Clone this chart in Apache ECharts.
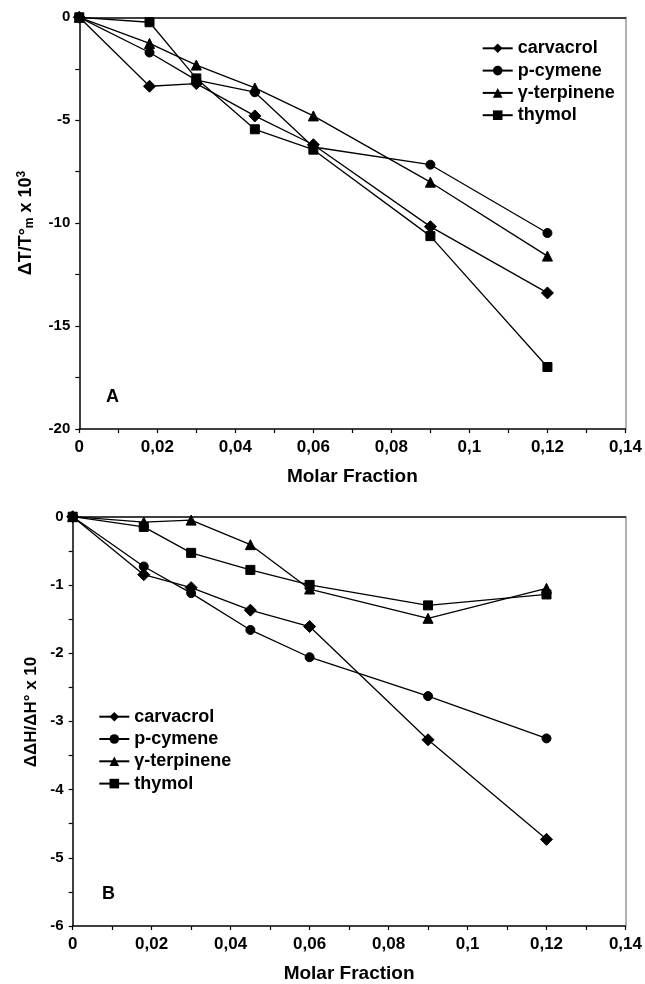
<!DOCTYPE html>
<html>
<head>
<meta charset="utf-8">
<script src="https://cdn.jsdelivr.net/npm/echarts@6/dist/echarts.min.js"></script>
<style>
html,body{margin:0;padding:0;background:#fff;}
#chart{width:645px;height:984px;}
</style>
</head>
<body>
<div id="chart"></div>
<script>
// ---- data ----
const molarFraction = [0, 0.018, 0.03, 0.045, 0.06, 0.09, 0.12];
const seriesNames = ['carvacrol', 'p-cymene', 'γ-terpinene', 'thymol'];
const seriesSymbols = ['diamond', 'circle', 'triangle', 'rect'];

// Panel A: ΔT/T°m x 10^3
const carvacrolA = [0, -3.35, -3.22, -4.79, -6.19, -10.17, -13.39];
const pCymeneA   = [0, -1.71, -3.05, -3.64, -6.30, -7.16, -10.48];
const terpineneA = [0, -1.27, -2.32, -3.43, -4.79, -8.01, -11.60];
const thymolA    = [0, -0.24, -2.97, -5.44, -6.43, -10.63, -16.99];

// Panel B: ΔΔH/ΔH° x 10
const carvacrolB = [0, -0.85, -1.04, -1.37, -1.61, -3.27, -4.73];
const pCymeneB   = [0, -0.73, -1.12, -1.66, -2.06, -2.63, -3.25];
const terpineneB = [0, -0.08, -0.05, -0.41, -1.06, -1.49, -1.05];
const thymolB    = [0, -0.15, -0.53, -0.78, -1.00, -1.30, -1.14];

const xTickStep = 0.02;
const xMax = 0.14;

// ---- chart ----
const FONT = "'Liberation Sans', Arial, sans-serif";
const symbolSizes = {diamond: 12, circle: 9, triangle: 10, rect: 9};

function pairs(ys) { return molarFraction.map((x, i) => [x, ys[i]]); }

function xLabel(v) {
  const s = String(+v.toFixed(2));
  return s.replace('.', ',');
}

function mkXAxis(gridIndex) {
  return [{
    type: 'value', gridIndex, min: 0, max: xMax, interval: xTickStep,
    name: 'Molar Fraction', nameLocation: 'middle', nameGap: 38,
    nameTextStyle: {fontFamily: FONT, fontWeight: 'bold', fontSize: 19, color: '#000'},
    axisLine: {onZero: false, lineStyle: {color: '#000', width: 1.5}},
    axisTick: {show: true, inside: false, length: 4, lineStyle: {color: '#000', width: 1.2}},
    minorTick: {show: true, splitNumber: 2, length: 4, lineStyle: {color: '#000', width: 1.2}},
    splitLine: {show: false},
    axisLabel: {formatter: xLabel, fontFamily: FONT, fontWeight: 'bold', fontSize: 17, color: '#000', margin: 10}
  }, {
    type: 'value', gridIndex, min: 0, max: xMax, position: 'top',
    axisLine: {onZero: false, lineStyle: {color: '#000', width: 1.5}},
    axisTick: {show: false}, axisLabel: {show: false}, splitLine: {show: false}
  }];
}

function mkYAxis(gridIndex, min, interval) {
  return [{
    type: 'value', gridIndex, min, max: 0, interval,
    axisLine: {onZero: false, lineStyle: {color: '#000', width: 1.5}},
    axisTick: {show: true, inside: false, length: 4, lineStyle: {color: '#000', width: 1.2}},
    minorTick: {show: true, splitNumber: 2, length: 4, lineStyle: {color: '#000', width: 1.2}},
    splitLine: {show: false},
    axisLabel: {fontFamily: FONT, fontWeight: 'bold', fontSize: 15, color: '#000', margin: 9}
  }, {
    type: 'value', gridIndex, min, max: 0, position: 'right',
    axisLine: {onZero: false, lineStyle: {color: '#999', width: 1.5}},
    axisTick: {show: false}, axisLabel: {show: false}, splitLine: {show: false}
  }];
}

function mkSeries(dataArrs, xIdx, yIdx) {
  return dataArrs.map((arr, i) => ({
    name: seriesNames[i],
    type: 'line',
    xAxisIndex: xIdx, yAxisIndex: yIdx,
    data: pairs(arr),
    symbol: seriesSymbols[i],
    symbolSize: symbolSizes[seriesSymbols[i]],
    showAllSymbol: true,
    lineStyle: {color: '#000', width: 1.3},
    itemStyle: {color: '#000', borderColor: '#000'},
    emphasis: {disabled: true},
    animation: false,
    z: 3
  }));
}

const legendCommon = {
  orient: 'vertical',
  data: seriesNames,
  padding: 0,
  itemWidth: 30, itemHeight: 12, itemGap: 4.3,
  textStyle: {fontFamily: FONT, fontWeight: 'bold', fontSize: 18, color: '#000', lineHeight: 18},
  selectedMode: false
};

const chart = echarts.init(document.getElementById('chart'), null, {renderer: 'canvas'});
chart.setOption({
  animation: false,
  backgroundColor: '#fff',
  grid: [
    {left: 79.3, right: 18, top: 17.3, bottom: 555},
    {left: 72.7, right: 19, top: 516.7, bottom: 51.3}
  ],
  xAxis: [...mkXAxis(0), ...mkXAxis(1)],
  yAxis: [...mkYAxis(0, -20, 5), ...mkYAxis(1, -6, 1)],
  legend: [
    Object.assign({left: 481.7, top: 39.3}, legendCommon),
    Object.assign({left: 98.3, top: 707.7}, legendCommon)
  ],
  series: [
    ...mkSeries([carvacrolA, pCymeneA, terpineneA, thymolA], 0, 0),
    ...mkSeries([carvacrolB, pCymeneB, terpineneB, thymolB], 2, 2)
  ],
  graphic: [
    {type: 'text', left: 106, top: 388, style: {text: 'A', font: "bold 18px " + FONT, fill: '#000'}},
    {type: 'text', left: 102, top: 885, style: {text: 'B', font: "bold 18px " + FONT, fill: '#000'}},
    {type: 'text', x: 26, y: 223, rotation: Math.PI / 2,
      style: {
        text: 'ΔT/T°{sub|m} x 10{sup|3}',
        font: "bold 18px " + FONT, fill: '#000', align: 'center', verticalAlign: 'middle',
        rich: {
          sub: {fontSize: 12, fontWeight: 'bold', fontFamily: FONT, verticalAlign: 'bottom', padding: [8, 0, 0, 0]},
          sup: {fontSize: 12, fontWeight: 'bold', fontFamily: FONT, verticalAlign: 'top', padding: [0, 0, 8, 0]}
        }
      }},
    {type: 'text', x: 31, y: 712, rotation: Math.PI / 2,
      style: {text: 'ΔΔH/ΔH° x 10', font: "bold 17px " + FONT, fill: '#000', align: 'center', verticalAlign: 'middle'}}
  ]
});
</script>
</body>
</html>
